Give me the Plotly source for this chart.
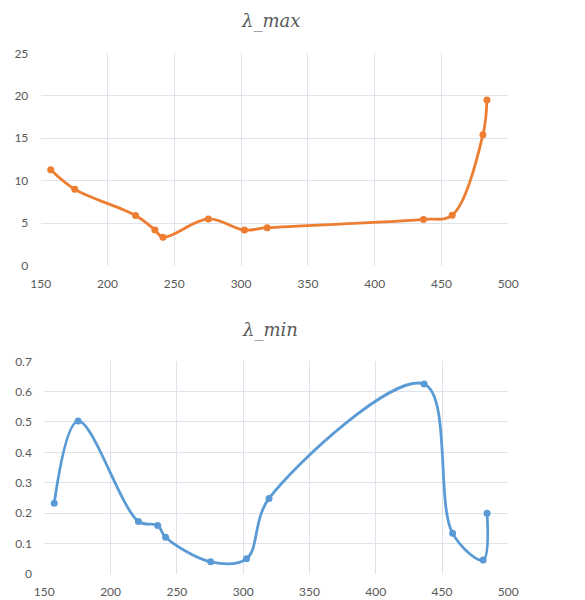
import plotly.graph_objects as go

# Shared x positions
x_vals = [157.5, 175.5, 221, 235.5, 241.5, 275.5, 302.5, 319.5, 436.5, 458, 481, 484]
# λ_max series
lam_max = [11.3, 9.0, 5.9, 4.2, 3.35, 5.5, 4.2, 4.47, 5.45, 5.95, 15.4, 19.5]
# λ_min series
lam_min = [0.232, 0.503, 0.172, 0.159, 0.12, 0.039, 0.049, 0.248, 0.625, 0.133, 0.045, 0.199]

x_ticks = [150, 200, 250, 300, 350, 400, 450, 500]
ymax_ticks = [0, 5, 10, 15, 20, 25]
ymin_ticks = [0, 0.1, 0.2, 0.3, 0.4, 0.5, 0.6, 0.7]
ymin_labels = ["0", "0.1", "0.2", "0.3", "0.4", "0.5", "0.6", "0.7"]

ORANGE = "#ED7D31"
BLUE = "#5B9BD5"
GRID = "#DCE3EA"
TXT = "#595959"
W, H = 585, 600

fig = go.Figure()
fig.add_trace(go.Scatter(x=x_vals, y=lam_max, mode="lines+markers",
                         line=dict(color=ORANGE, width=2.8, shape="spline", smoothing=1),
                         marker=dict(color=ORANGE, size=7), xaxis="x", yaxis="y",
                         showlegend=False))
fig.add_trace(go.Scatter(x=x_vals, y=lam_min, mode="lines+markers",
                         line=dict(color=BLUE, width=2.8, shape="spline", smoothing=1),
                         marker=dict(color=BLUE, size=7), xaxis="x2", yaxis="y2",
                         showlegend=False))

tickfont = dict(family="Lato, Open Sans, sans-serif", size=12, color=TXT)
common_x = dict(range=[150, 500], tickvals=x_ticks, showgrid=True, gridcolor=GRID,
                gridwidth=1, zeroline=False, showline=False, ticks="outside",
                ticklen=7, tickcolor="rgba(0,0,0,0)", tickfont=tickfont,
                automargin=False)
common_y = dict(showgrid=True, gridcolor=GRID, gridwidth=1, zeroline=False,
                showline=False, ticks="outside", ticklen=9,
                tickcolor="rgba(0,0,0,0)", tickfont=tickfont, automargin=False)

fig.update_layout(
    width=W, height=H,
    margin=dict(l=0, r=0, t=0, b=0, autoexpand=False),
    paper_bgcolor="white", plot_bgcolor="white",
    xaxis=dict(domain=[40.7 / W, 508.3 / W], anchor="y", **common_x),
    yaxis=dict(domain=[1 - 265.7 / H, 1 - 53.3 / H], anchor="x", range=[0, 25],
               tickvals=ymax_ticks, **common_y),
    xaxis2=dict(domain=[44.3 / W, 508.3 / W], anchor="y2", **common_x),
    yaxis2=dict(domain=[1 - 573.7 / H, 1 - 361.3 / H], anchor="x2", range=[0, 0.7],
                tickvals=ymin_ticks, ticktext=ymin_labels, **common_y),
    annotations=[
        dict(text="λ_max", x=270 / W, y=1 - 21 / H, xref="paper", yref="paper",
             showarrow=False, xanchor="center", yanchor="middle",
             font=dict(family="DejaVu Serif, Liberation Serif, serif", size=18, color=TXT,
                       style="italic")),
        dict(text="λ_min", x=270 / W, y=1 - 330 / H, xref="paper", yref="paper",
             showarrow=False, xanchor="center", yanchor="middle",
             font=dict(family="DejaVu Serif, Liberation Serif, serif", size=18, color=TXT,
                       style="italic")),
    ],
)

fig.write_html("out.html", config={"displayModeBar": False},
               post_script="document.body.style.margin='0';document.body.style.overflow='hidden';")
